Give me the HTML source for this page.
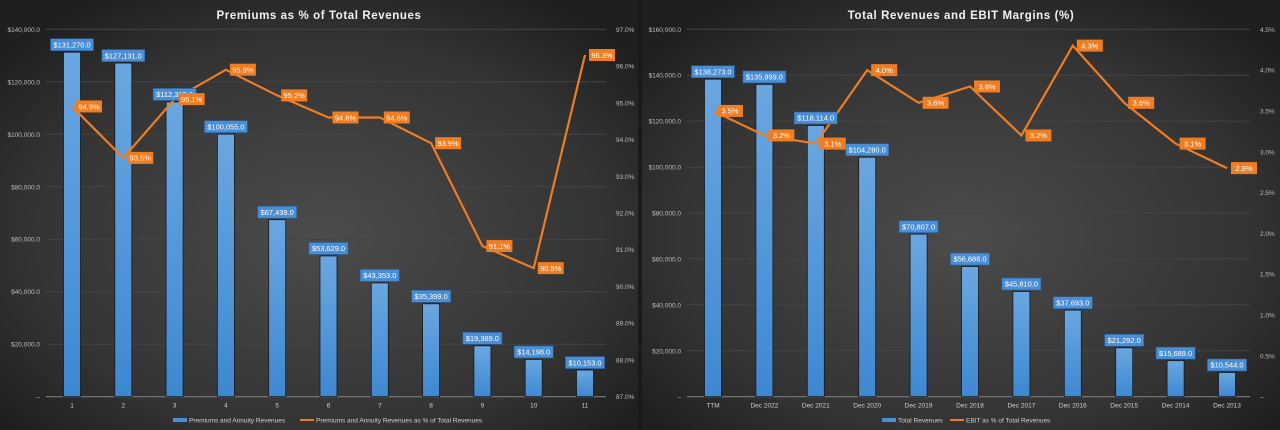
<!DOCTYPE html>
<html><head><meta charset="utf-8"><style>
body{margin:0;background:#1a1a1a;width:1280px;height:430px;overflow:hidden;font-family:"Liberation Sans",sans-serif}
svg{display:block}
</style></head><body>
<svg id="s" width="1280" height="430">
<defs>
<radialGradient id="bg" cx="50%" cy="55%" r="65%"><stop offset="0" stop-color="#4c4c4c"/><stop offset="0.7" stop-color="#333"/><stop offset="1" stop-color="#1f1f1f"/></radialGradient>
<linearGradient id="bar" x1="0" y1="0" x2="0" y2="1"><stop offset="0" stop-color="#6aa7e0"/><stop offset="1" stop-color="#3e88d2"/></linearGradient>
</defs>
</svg>
<script>
const cats1=["1","2","3","4","5","6","7","8","9","10","11"];
const bars1=[131270,127131,112319,100055,67439,53629,43353,35399,19389,14198,10153];
const line1=[94.9,93.5,95.1,95.9,95.2,94.6,94.6,93.9,91.1,90.5,96.3];
const yTicks1=[0,20000,40000,60000,80000,100000,120000,140000];
const y2Ticks1=[87,88,89,90,91,92,93,94,95,96,97];
const cats2=["TTM","Dec 2022","Dec 2021","Dec 2020","Dec 2019","Dec 2018","Dec 2017","Dec 2016","Dec 2015","Dec 2014","Dec 2013"];
const bars2=[138273,135999,118114,104280,70807,56688,45810,37693,21292,15689,10544];
const line2=[3.5,3.2,3.1,4.0,3.6,3.8,3.2,4.3,3.6,3.1,2.8];
const yTicks2=[0,20000,40000,60000,80000,100000,120000,140000,160000];
const y2Ticks2=[0,0.5,1,1.5,2,2.5,3,3.5,4,4.5];

const svg=document.getElementById('s');const NS="http://www.w3.org/2000/svg";
function mk(t,a,p){const e=document.createElementNS(NS,t);for(const k in a)e.setAttribute(k,a[k]);(p||svg).appendChild(e);return e;}
function fmt(v){return '$'+v.toLocaleString('en-US')+'.0';}
function chart(o){
 const g=mk('g',{});
 
 
 const bgR=mk('rect',{x:o.px,y:0,width:o.pw,height:430,fill:'url(#bg)'},g);
 
 
 const t=mk('text',{x:o.px+o.pw/2,y:19,'text-anchor':'middle',fill:'#f2f2f2','font-size':11.5,'font-weight':'bold','letter-spacing':'0.6'},g);t.textContent=o.title;
 
 
 const top=29.3,bot=396.7;
 const y=v=>bot-(v-o.yMin)/(o.yMax-o.yMin)*(bot-top);
 const y2=v=>bot-(v-o.y2Min)/(o.y2Max-o.y2Min)*(bot-top);
 const x=i=>o.x0+i*o.dx;
 o.yt.forEach(v=>{
  if(v>0){const l=mk('line',{x1:o.ax1,x2:o.ax2,y1:y(v),y2:y(v),stroke:'#444','stroke-width':1},g);
  
  }
  const tx=mk('text',{x:o.ax1-6,y:y(v)+2.5,'text-anchor':'end',fill:'#bdbdbd','font-size':6.5},g);
  tx.textContent=v===0?'–':fmt(v);
  
  
 });
 o.y2t.forEach(v=>{
  const tx=mk('text',{x:o.ax2+10,y:y2(v)+2.5,'text-anchor':'start',fill:'#bdbdbd','font-size':6.5},g);
  tx.textContent=(v===0&&o.dash0)?'–':v.toFixed(1)+'%';
  
  
 });
 const ax=mk('line',{x1:o.ax1,x2:o.ax2,y1:bot,y2:bot,stroke:'#7a7a7a','stroke-width':1.2},g);
 
 
 o.cats.forEach((c,i)=>{
  const tx=mk('text',{x:x(i),y:bot+11,'text-anchor':'middle',fill:'#cfcfcf','font-size':6.5},g);tx.textContent=c;
  
  
 });
 o.bars.forEach((v,i)=>{
  const r=mk('rect',{x:x(i)-8.5,y:y(v),width:17,height:bot-y(v),fill:'url(#bar)',stroke:'#1a1a1a','stroke-width':0.8},g);
  
  
 });
 let d='';o.line.forEach((v,i)=>{d+=(i?'L':'M')+x(i)+','+y2(v);});
 const p=mk('path',{d:d,fill:'none',stroke:'#ef7d22','stroke-width':2.2},g);
 
 
 o.bars.forEach((v,i)=>{
  const s=fmt(v);const w=s.length*3.9+4;
  const b=mk('rect',{x:x(i)-w/2,y:y(v)-13.5,width:w,height:12,fill:'#4a8fd6',stroke:'#2c5e95','stroke-width':0.6},g);
  
  
  const tx=mk('text',{x:x(i),y:y(v)-4.8,'text-anchor':'middle',fill:'#fff','font-size':7.5,'textLength':w-6,'lengthAdjust':'spacingAndGlyphs'},g);tx.textContent=s;
  
  
 });
 o.line.forEach((v,i)=>{
  const s=v.toFixed(1)+'%';
  const b=mk('rect',{x:x(i)+4,y:y2(v)-6,width:26,height:12,fill:'#ef7d22'},g);
  
  
  const tx=mk('text',{x:x(i)+17,y:y2(v)+2.8,'text-anchor':'middle',fill:'#fff','font-size':7.5},g);tx.textContent=s;
  
  
 });
 const lg=mk('g',{},g);
 
 
 const lx=o.legX;
 mk('rect',{x:lx,y:418,width:14,height:4,fill:'#4a8fd6'},lg);
 const l1=mk('text',{x:lx+16,y:422.5,fill:'#cfcfcf','font-size':6.5},lg);l1.textContent=o.leg1;
 
 
 mk('line',{x1:o.legX2,x2:o.legX2+14,y1:420,y2:420,stroke:'#ef7d22','stroke-width':2},lg);
 const l2=mk('text',{x:o.legX2+16,y:422.5,fill:'#cfcfcf','font-size':6.5},lg);l2.textContent=o.leg2;
 
 
}
chart({name:'premiums-chart',title:'Premiums as % of Total Revenues',px:0,pw:638,ax1:46,ax2:606,x0:72,dx:51.3,
 cats:cats1,bars:bars1,line:line1,yt:yTicks1,y2t:y2Ticks1,yMin:0,yMax:140000,y2Min:87,y2Max:97,
 leg1:'Premiums and Annuity Revenues',leg2:'Premiums and Annuity Revenues as % of Total Revenues',legX:173,legX2:300});
chart({name:'revenues-ebit-chart',title:'Total Revenues and EBIT Margins (%)',px:642,pw:638,ax1:687,ax2:1250,x0:713,dx:51.4,
 cats:cats2,bars:bars2,line:line2,yt:yTicks2,y2t:y2Ticks2,yMin:0,yMax:160000,y2Min:0,y2Max:4.5,dash0:true,
 leg1:'Total Revenues',leg2:'EBIT as % of Total Revenues',legX:882,legX2:950});
</script>
</body></html>
